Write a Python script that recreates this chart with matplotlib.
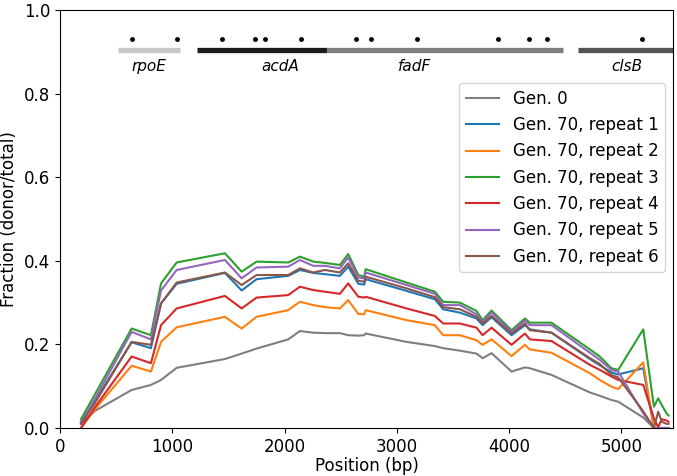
import numpy as np
import matplotlib
matplotlib.use("Agg")
import matplotlib.pyplot as plt

# variant positions (bp) shared by all series
positions = [187, 312, 638, 810, 900, 1039, 1469, 1618, 1751, 2033, 2137, 2256,
             2360, 2493, 2567, 2657, 2710, 2722, 3087, 3339, 3413, 3562, 3710,
             3764, 3844, 4022, 4141, 4185, 4378, 4720, 4808, 4912, 4972, 5195,
             5290, 5328, 5360, 5402, 5420]

gen0 = [0.010, 0.041, 0.091, 0.103, 0.115, 0.144, 0.165, 0.178, 0.190, 0.212,
        0.232, 0.228, 0.227, 0.227, 0.222, 0.221, 0.222, 0.226, 0.206, 0.196,
        0.191, 0.185, 0.178, 0.167, 0.179, 0.135, 0.145, 0.143, 0.127, 0.085,
        0.077, 0.067, 0.063, 0.025, 0.000, 0.000, 0.000, 0.000, 0.000]
rep1 = [0.015, 0.065, 0.205, 0.191, 0.298, 0.345, 0.371, 0.329, 0.356, 0.364,
        0.378, 0.371, 0.368, 0.364, 0.386, 0.345, 0.343, 0.356, 0.328, 0.308,
        0.284, 0.276, 0.262, 0.246, 0.265, 0.222, 0.246, 0.236, 0.228, 0.165,
        0.150, 0.133, 0.128, 0.143, 0.000, 0.000, 0.000, 0.000, 0.000]
rep2 = [0.000, 0.045, 0.149, 0.135, 0.206, 0.241, 0.266, 0.238, 0.266, 0.282,
        0.302, 0.294, 0.289, 0.286, 0.306, 0.273, 0.272, 0.282, 0.258, 0.246,
        0.222, 0.222, 0.210, 0.199, 0.212, 0.172, 0.199, 0.188, 0.180, 0.131,
        0.115, 0.099, 0.093, 0.157, 0.000, 0.000, 0.000, 0.000, 0.000]
rep3 = [0.021, 0.081, 0.238, 0.222, 0.346, 0.396, 0.418, 0.374, 0.398, 0.396,
        0.410, 0.398, 0.395, 0.390, 0.416, 0.366, 0.362, 0.380, 0.348, 0.326,
        0.302, 0.300, 0.280, 0.258, 0.281, 0.234, 0.262, 0.252, 0.252, 0.188,
        0.171, 0.143, 0.139, 0.236, 0.051, 0.071, 0.055, 0.035, 0.030]
rep4 = [0.000, 0.050, 0.171, 0.155, 0.246, 0.286, 0.316, 0.286, 0.312, 0.318,
        0.338, 0.330, 0.326, 0.321, 0.346, 0.314, 0.312, 0.314, 0.286, 0.268,
        0.250, 0.250, 0.240, 0.222, 0.240, 0.199, 0.226, 0.212, 0.208, 0.151,
        0.139, 0.123, 0.115, 0.103, 0.023, 0.002, 0.021, 0.018, 0.015]
rep5 = [0.012, 0.070, 0.230, 0.212, 0.329, 0.378, 0.402, 0.358, 0.384, 0.386,
        0.402, 0.388, 0.388, 0.382, 0.408, 0.360, 0.358, 0.372, 0.342, 0.321,
        0.294, 0.294, 0.272, 0.254, 0.276, 0.230, 0.257, 0.246, 0.246, 0.180,
        0.163, 0.139, 0.135, 0.035, 0.000, 0.000, 0.000, 0.000, 0.000]
rep6 = [0.010, 0.060, 0.206, 0.199, 0.298, 0.348, 0.372, 0.342, 0.366, 0.366,
        0.382, 0.372, 0.378, 0.372, 0.394, 0.352, 0.350, 0.362, 0.334, 0.313,
        0.289, 0.284, 0.266, 0.250, 0.268, 0.226, 0.250, 0.234, 0.228, 0.167,
        0.153, 0.127, 0.121, 0.040, 0.000, 0.039, 0.015, 0.010, 0.010]

series_labels = ["Gen. 0", "Gen. 70, repeat 1", "Gen. 70, repeat 2",
                 "Gen. 70, repeat 3", "Gen. 70, repeat 4", "Gen. 70, repeat 5",
                 "Gen. 70, repeat 6"]
series_colors = ["tab:gray", "tab:blue", "tab:orange", "tab:green", "tab:red",
                 "tab:purple", "tab:brown"]

# gene track on top
gene_names = ["rpoE", "acdA", "fadF", "clsB"]
gene_starts = [519, 1223, 2375, 4610]
gene_ends = [1069, 2375, 4476, 5460]
gene_label_x = [795, 1959, 3161, 5046]
gene_colors = ["#c8c8c8", "#1c1c1c", "#808080", "#555555"]
snp_positions = [638, 1039, 1446, 1737, 1826, 2143, 2633, 2767, 3176, 3903,
                 4176, 4334, 5180]

fig = plt.figure(figsize=(6.77, 4.76), dpi=100)
ax = fig.add_axes([60 / 677, 48 / 476, 613 / 677, 418 / 476])

all_series = [gen0, rep1, rep2, rep3, rep4, rep5, rep6]
for ys, lab, col in zip(all_series, series_labels, series_colors):
    ax.plot(positions, ys, color=col, label=lab, linewidth=1.5)

for name, s, e, lx, col in zip(gene_names, gene_starts, gene_ends,
                               gene_label_x, gene_colors):
    ax.plot([s, e], [0.904, 0.904], color=col, linewidth=3.8,
            solid_capstyle="butt")
    ax.text(lx, 0.866, name, style="italic", fontsize=11, ha="center",
            va="center")
ax.plot(snp_positions, [0.931] * len(snp_positions), "k.", markersize=5)

ax.set_xlim(0, 5460)
ax.set_ylim(0, 1.0)
ax.set_xticks([0, 1000, 2000, 3000, 4000, 5000])
ax.set_yticks([0.0, 0.2, 0.4, 0.6, 0.8, 1.0])
ax.tick_params(labelsize=12)
ax.set_xlabel("Position (bp)", fontsize=12, labelpad=1)
ax.set_ylabel("Fraction (donor/total)", fontsize=12)
ax.legend(loc="upper right", bbox_to_anchor=(0.987, 0.825), borderaxespad=0,
          fontsize=12)

fig.savefig("out.png", dpi=100)
